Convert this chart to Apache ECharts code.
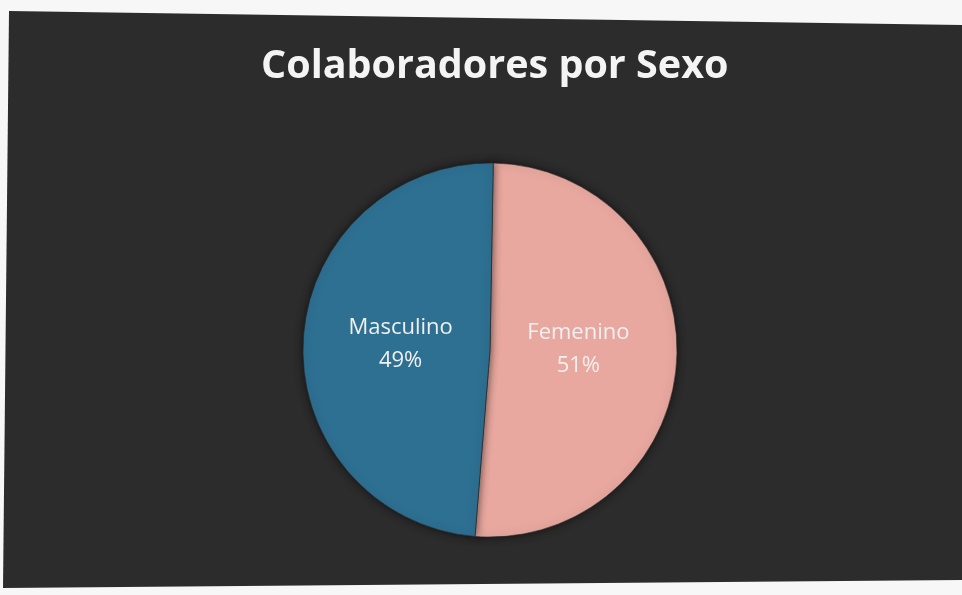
<!DOCTYPE html>
<html>
<head>
<meta charset="utf-8">
<script src="https://cdn.jsdelivr.net/npm/echarts@6/dist/echarts.min.js"></script>
<style>
html,body{margin:0;padding:0;background:#f7f7f7;}
#main{width:962px;height:595px;}
</style>
</head>
<body>
<div id="main"></div>
<script>
const titleText = 'Colaboradores por Sexo';
const categories = ['Femenino', 'Masculino'];
const values = [51, 49];
const colors = ['#e8a89f', '#2e7092'];

const chart = echarts.init(document.getElementById('main'), null, {renderer: 'canvas'});
chart.setOption({
  backgroundColor: '#f7f7f7',
  graphic: [{
    type: 'polygon',
    z: -10,
    shape: {points: [[9, 11], [962, 25], [962, 580], [3, 588]]},
    style: {fill: '#2c2c2c'}
  }],
  title: {
    text: titleText,
    left: 256,
    top: 42,
    textStyle: {
      color: '#f4f4f4',
      fontFamily: 'Open Sans',
      fontWeight: 'bold',
      fontSize: 39.5
    }
  },
  series: [{
    type: 'pie',
    center: [490, 350],
    radius: [0, 187],
    startAngle: 89,
    clockwise: true,
    label: {
      show: true,
      position: 'inside',
      formatter: p => p.name + '\n' + p.value + '%',
      color: '#f0f0f0',
      fontFamily: 'Open Sans',
      fontSize: 22,
      lineHeight: 33
    },
    labelLayout: p => (p.dataIndex === 0 ? {dx: -8, dy: -5} : {dx: 7, dy: -1}),
    labelLine: {show: false},
    itemStyle: {
      borderColor: 'rgba(40,40,40,0.6)',
      borderWidth: 1,
      shadowBlur: 8,
      shadowColor: 'rgba(0,0,0,0.6)'
    },
    emphasis: {disabled: true},
    data: categories.map((c, i) => ({name: c, value: values[i], itemStyle: {color: colors[i]}}))
  }]
});
</script>
</body>
</html>
